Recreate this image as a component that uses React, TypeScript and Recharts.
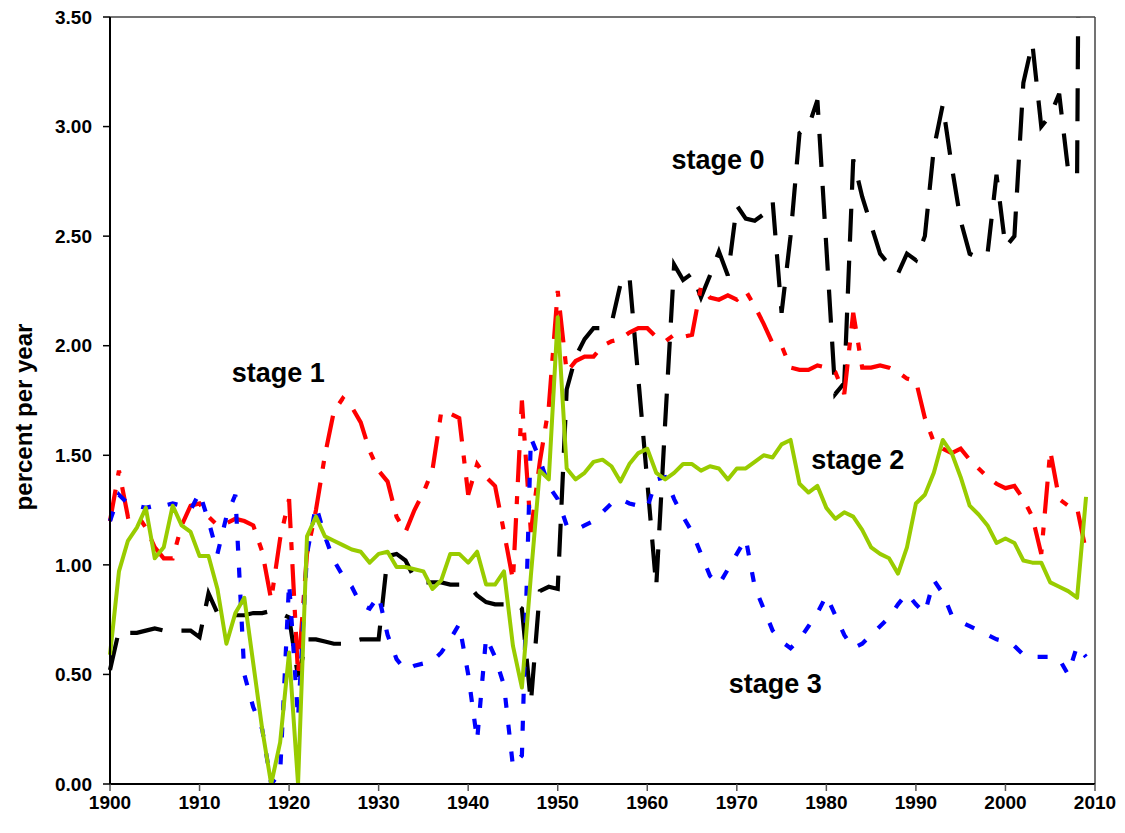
import { LineChart, Line, XAxis, YAxis, ReferenceLine, ReferenceDot, Label } from 'recharts'

const years = Array.from({ length: 110 }, (_, i) => 1900 + i)

// stage 0 (black long dash)
const stage0 = [
  0.52, 0.70, 0.69, 0.69, 0.70, 0.71, 0.70, 0.70, 0.70, 0.70,
  0.67, 0.87, 0.78, 0.77, 0.77, 0.77, 0.78, 0.78, 0.79, 0.78,
  0.76, 0.49, 0.66, 0.66, 0.65, 0.64, 0.64, 0.65, 0.66, 0.66,
  0.66, 1.04, 1.05, 1.02, 0.94, 0.92, 0.92, 0.92, 0.91, 0.91,
  0.91, 0.86, 0.83, 0.82, 0.82, 0.83, 0.80, 0.37, 0.88, 0.90,
  0.89, 1.80, 1.95, 2.03, 2.08, 2.08, 2.10, 2.28, 2.32, 1.85,
  1.38, 0.90, 1.65, 2.37, 2.30, 2.33, 2.22, 2.32, 2.43, 2.32,
  2.64, 2.58, 2.57, 2.60, 2.66, 2.15, 2.50, 2.97, 3.00, 3.12,
  2.45, 1.78, 1.83, 2.85, 2.68, 2.55, 2.42, 2.37, 2.33, 2.42,
  2.39, 2.50, 2.90, 3.10, 2.82, 2.57, 2.42, 2.40, 2.42, 2.78,
  2.45, 2.50, 3.20, 3.38, 3.00, 3.05, 3.15, 2.80, 2.77, 9.0,
]

// stage 1 (red dash-dot)
const stage1 = [
  1.20, 1.43, 1.22, 1.23, 1.17, 1.08, 1.03, 1.03, 1.18, 1.27,
  1.28, 1.22, 1.18, 1.19, 1.21, 1.20, 1.18, 1.06, 0.84, 1.12,
  1.30, 0.50, 1.05, 1.25, 1.50, 1.70, 1.76, 1.72, 1.65, 1.52,
  1.43, 1.38, 1.22, 1.15, 1.25, 1.33, 1.43, 1.70, 1.69, 1.67,
  1.32, 1.46, 1.40, 1.36, 1.15, 0.93, 1.75, 1.15, 1.47, 1.72,
  2.25, 1.88, 1.93, 1.95, 1.95, 2.00, 2.02, 2.03, 2.06, 2.08,
  2.08, 2.04, 2.02, 2.05, 2.04, 2.05, 2.27, 2.22, 2.21, 2.23,
  2.21, 2.25, 2.18, 2.10, 2.01, 2.00, 1.90, 1.89, 1.89, 1.91,
  1.90, 1.88, 1.78, 2.15, 1.90, 1.90, 1.91, 1.90, 1.88, 1.85,
  1.84, 1.67, 1.56, 1.53, 1.51, 1.53, 1.48, 1.44, 1.40, 1.37,
  1.35, 1.36, 1.30, 1.22, 1.05, 1.52, 1.30, 1.27, 1.26, 1.06,
]

// stage 2 (green solid)
const stage2 = [
  0.59, 0.97, 1.11, 1.17, 1.26, 1.03, 1.08, 1.27, 1.18, 1.15,
  1.04, 1.04, 0.89, 0.64, 0.78, 0.85, 0.55, 0.25, 0.00, 0.19,
  0.60, 0.00, 1.13, 1.22, 1.13, 1.11, 1.09, 1.07, 1.06, 1.01,
  1.05, 1.06, 0.99, 0.99, 0.98, 0.97, 0.89, 0.93, 1.05, 1.05,
  1.01, 1.06, 0.91, 0.91, 0.97, 0.63, 0.44, 0.95, 1.43, 1.39,
  2.13, 1.44, 1.39, 1.42, 1.47, 1.48, 1.45, 1.38, 1.46, 1.51,
  1.53, 1.42, 1.39, 1.42, 1.46, 1.46, 1.43, 1.45, 1.44, 1.39,
  1.44, 1.44, 1.47, 1.50, 1.49, 1.55, 1.57, 1.37, 1.33, 1.36,
  1.26, 1.21, 1.24, 1.22, 1.16, 1.08, 1.05, 1.03, 0.96, 1.08,
  1.28, 1.32, 1.42, 1.57, 1.51, 1.40, 1.27, 1.23, 1.18, 1.10,
  1.12, 1.10, 1.02, 1.01, 1.01, 0.92, 0.90, 0.88, 0.85, 1.31,
]

// stage 3 (blue dotted)
const stage3 = [
  1.20, 1.32, 1.28, 1.27, 1.26, 1.27, 1.27, 1.28, 1.27, 1.25,
  1.33, 1.20, 1.05, 1.22, 1.32, 0.50, 0.35, 0.25, 0.00, 0.05,
  0.92, 0.30, 1.05, 1.27, 1.13, 1.02, 0.95, 0.90, 0.82, 0.80,
  0.86, 0.68, 0.57, 0.52, 0.54, 0.55, 0.56, 0.60, 0.66, 0.73,
  0.50, 0.20, 0.67, 0.58, 0.45, 0.08, 0.13, 1.58, 1.48, 1.36,
  1.30, 1.18, 1.16, 1.18, 1.20, 1.24, 1.28, 1.30, 1.28, 1.27,
  1.26, 1.39, 1.40, 1.30, 1.22, 1.15, 1.05, 0.95, 0.91, 0.98,
  1.05, 1.12, 0.90, 0.80, 0.70, 0.65, 0.62, 0.66, 0.72, 0.78,
  0.86, 0.77, 0.68, 0.62, 0.64, 0.68, 0.72, 0.76, 0.82, 0.87,
  0.82, 0.78, 0.93, 0.87, 0.77, 0.74, 0.72, 0.70, 0.68, 0.66,
  0.65, 0.63, 0.59, 0.58, 0.58, 0.58, 0.57, 0.50, 0.63, 0.58,
]

const xTicks = [1900, 1910, 1920, 1930, 1940, 1950, 1960, 1970, 1980, 1990, 2000, 2010]
const yTicks = [0, 0.5, 1, 1.5, 2, 2.5, 3, 3.5]

const stageLabels = [
  { text: 'stage 0', year: 1967.9, value: 2.85 },
  { text: 'stage 1', year: 1918.8, value: 1.88 },
  { text: 'stage 2', year: 1983.5, value: 1.48 },
  { text: 'stage 3', year: 1974.3, value: 0.46 },
]

const data = years.map((year, i) => ({
  year,
  stage0: stage0[i],
  stage1: stage1[i],
  stage2: stage2[i],
  stage3: stage3[i],
}))

const font = '"Liberation Sans", Arial, sans-serif'

export default function App() {
  return (
    <div style={{ position: 'absolute', left: 0, top: 0, fontFamily: font, background: '#fff' }}>
      <LineChart width={1125} height={833} data={data} margin={{ top: 17, right: 30, bottom: 0, left: 0 }}>
        <XAxis
          dataKey="year"
          type="number"
          domain={[1900, 2010]}
          ticks={xTicks}
          height={49}
          tickSize={7}
          tickMargin={5}
          axisLine={{ stroke: '#000', strokeWidth: 2 }}
          tickLine={{ stroke: '#555', strokeWidth: 1.5 }}
          tick={{ fill: '#000', fontSize: 19, fontWeight: 'bold' }}
        />
        <YAxis
          type="number"
          domain={[0, 3.5]}
          ticks={yTicks}
          allowDataOverflow
          width={110}
          tickSize={7}
          tickMargin={11}
          tickFormatter={(v: number) => v.toFixed(2)}
          axisLine={{ stroke: '#000', strokeWidth: 2 }}
          tickLine={{ stroke: '#000', strokeWidth: 1.5 }}
          tick={{ fill: '#000', fontSize: 19, fontWeight: 'bold' }}
        >
          <Label
            content={() => (
              <text
                transform="translate(32,417) rotate(-90)"
                textAnchor="middle"
                fontSize={24}
                fontWeight="bold"
                fill="#000"
              >
                percent per year
              </text>
            )}
          />
        </YAxis>
        <ReferenceLine y={3.5} stroke="#444" strokeWidth={1.5} />
        <ReferenceLine x={2010} stroke="#444" strokeWidth={1.5} />
        <Line type="linear" dataKey="stage0" stroke="#000" strokeWidth={4.2} strokeDasharray="33 19" strokeLinecap="butt" dot={false} isAnimationActive={false} />
        <Line type="linear" dataKey="stage1" stroke="#ff0000" strokeWidth={4.2} strokeDasharray="32 14 8 14" strokeLinecap="butt" dot={false} isAnimationActive={false} />
        <Line type="linear" dataKey="stage3" stroke="#0000ff" strokeWidth={4.2} strokeDasharray="10 17" strokeLinecap="butt" dot={false} isAnimationActive={false} />
        <Line type="linear" dataKey="stage2" stroke="#99cc00" strokeWidth={4} strokeLinejoin="round" dot={false} isAnimationActive={false} />
        {stageLabels.map((s) => (
          <ReferenceDot
            key={s.text}
            x={s.year}
            y={s.value}
            r={0}
            fill="none"
            stroke="none"
            label={{ value: s.text, position: 'center', fill: '#000', fontSize: 27, fontWeight: 'bold' }}
          />
        ))}
      </LineChart>
    </div>
  )
}
